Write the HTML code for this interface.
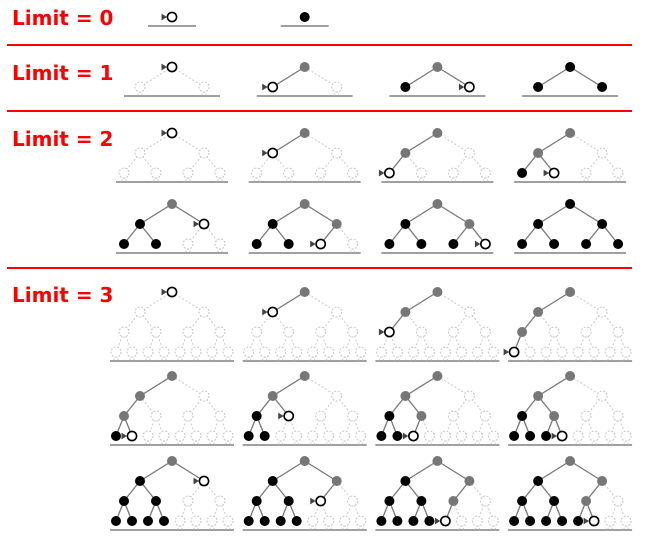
<!DOCTYPE html>
<html><head><meta charset="utf-8"><style>
html,body{margin:0;padding:0;background:#fff;}
svg{display:block;}
text{font-family:"DejaVu Sans","Liberation Sans",sans-serif;font-weight:bold;fill:#ff0000;font-size:20px;}
</style></head><body>
<svg id="c" width="651" height="540" viewBox="0 0 651 540">
<line x1="7" y1="45" x2="632" y2="45" stroke="#f00" stroke-width="2"/>
<line x1="7" y1="111" x2="632" y2="111" stroke="#f00" stroke-width="2"/>
<line x1="7" y1="268" x2="632" y2="268" stroke="#f00" stroke-width="2"/>
<text x="12" y="25">Limit = 0</text>
<text x="12" y="80">Limit = 1</text>
<text x="12" y="146">Limit = 2</text>
<text x="12" y="302">Limit = 3</text>
</svg>
<script>
// panel data: depth limit, current node level, current node index (-1 = finished), column, row root y
const panelDepth = [0,0, 1,1,1,1, 2,2,2,2,2,2,2,2, 3,3,3,3,3,3,3,3,3,3,3,3];
const panelCurLevel = [0,-1, 0,1,1,-1, 0,1,2,2,1,2,2,-1, 0,1,2,3,3,2,3,3,1,2,3,3];
const panelCurIndex = [0,-1, 0,0,1,-1, 0,0,0,1,1,2,3,-1, 0,0,0,0,1,1,2,3,1,2,4,5];
const panelCol = [0,1, 0,1,2,3, 0,1,2,3,0,1,2,3, 0,1,2,3,0,1,2,3,0,1,2,3];
const panelRootY = [17,17, 67,67,67,67, 133,133,133,133,204,204,204,204, 292,292,292,292,376,376,376,376,461,461,461,461];

const NS = 'http://www.w3.org/2000/svg';
const svg = document.getElementById('c');
const colX = c => 172 + c * 132.7;
const halfW = [24, 48, 56, 62];
const offs = [32, 16, 8];
function mk(tag, attrs){ const e=document.createElementNS(NS,tag); for(const k in attrs) e.setAttribute(k,attrs[k]); return e; }

panelDepth.forEach((d, p) => {
  const cx0 = colX(panelCol[p]), ry = panelRootY[p];
  const cl = panelCurLevel[p], ci = panelCurIndex[p], done = ci < 0;
  const g = mk('g', {});
  
  
  svg.appendChild(g);
  const baseY = ry + d * 20 + 9;
  function nx(l, i){ let x = cx0; for(let k=0;k<l;k++){ const bit = (i >> (l-1-k)) & 1; x += (bit ? 1 : -1) * offs[k]; } return x; }
  function state(l, i){
    if (done) return 'done';
    if (l === cl && i === ci) return 'cur';
    if (l < cl && (ci >> (cl - l)) === i) return 'anc';
    const end = (i + 1) << (d - l), cs = ci << (d - cl);
    return end <= cs ? 'done' : 'new';
  }
  const bl = mk('line', {x1: cx0 - halfW[d], x2: cx0 + halfW[d], y1: baseY, y2: baseY, stroke: '#a0a0a0', 'stroke-width': 2});
  
  
  g.appendChild(bl);
  for (let l = 1; l <= d; l++) for (let i = 0; i < (1 << l); i++) {
    const s = state(l, i);
    const e = mk('line', {x1: nx(l-1, i>>1), y1: ry + (l-1)*20, x2: nx(l, i), y2: ry + l*20,
      stroke: s === 'new' ? '#c8c8c8' : '#777', 'stroke-width': s === 'new' ? 1 : 1.3,
      'stroke-dasharray': s === 'new' ? '2,2' : 'none'});
    
    
    g.appendChild(e);
  }
  for (let i = 0; i < (1 << d); i++) {
    if (state(d, i) === 'new') {
      const x = nx(d, i), y = ry + d*20;
      [-3, 3].forEach(dx => {
        const st = mk('line', {x1: x, y1: y + 4, x2: x + dx, y2: baseY, stroke: '#d0d0d0', 'stroke-width': 1, 'stroke-dasharray': '2,1'});
        
        
        g.appendChild(st);
      });
    }
  }
  for (let l = 0; l <= d; l++) for (let i = 0; i < (1 << l); i++) {
    const s = state(l, i), x = nx(l, i), y = ry + l*20;
    let c;
    if (s === 'done') c = mk('circle', {cx: x, cy: y, r: 5, fill: '#000'});
    else if (s === 'anc') c = mk('circle', {cx: x, cy: y, r: 5, fill: '#777'});
    else if (s === 'new') c = mk('circle', {cx: x, cy: y, r: 5, fill: '#fff', stroke: '#c8c8c8', 'stroke-width': 1.1, 'stroke-dasharray': '2,1.5'});
    else {
      c = mk('circle', {cx: x, cy: y, r: 4.6, fill: '#fff', stroke: '#000', 'stroke-width': 1.6});
      const ar = mk('path', {d: `M${x-10},${y-3} L${x-10},${y+3} M${x-10},${y-2.5} L${x-6},${y} L${x-10},${y+2.5} Z`, fill: '#444', stroke: '#444', 'stroke-width': 1});
      
      
      g.appendChild(ar);
    }
    
    
    g.appendChild(c);
  }
});
</script>
</body></html>
